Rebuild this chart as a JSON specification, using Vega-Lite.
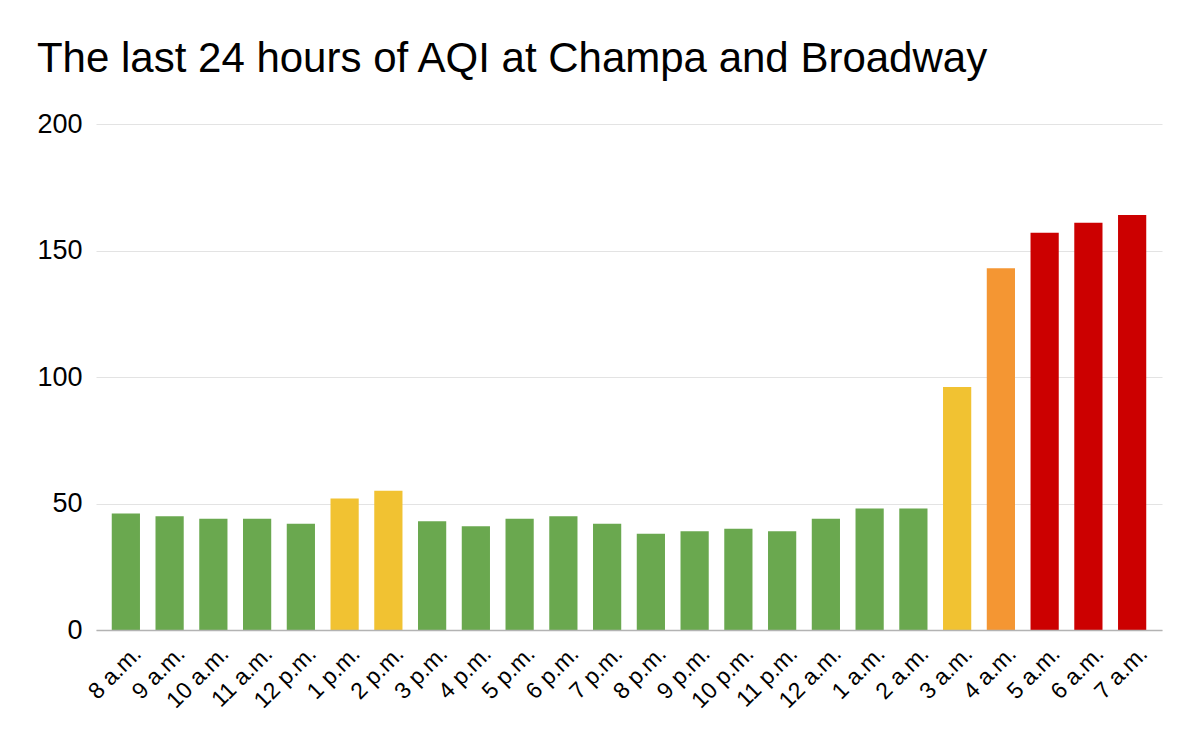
{
  "$schema": "https://vega.github.io/schema/vega-lite/v6.json",
  "autosize": {"type": "none"},
  "width": 1066,
  "height": 506,
  "padding": {"left": 96, "top": 124, "right": 38, "bottom": 112},
  "background": "white",
  "title": {
    "text": "The last 24 hours of AQI at Champa and Broadway",
    "anchor": "start",
    "font": "Liberation Sans",
    "fontSize": 42,
    "fontWeight": "normal",
    "color": "#000000",
    "baseline": "alphabetic",
    "dx": 0,
    "dy": 40,
    "offset": 36
  },
  "data": {
    "values": [
      {"hour": "8 a.m.", "aqi": 46, "level": "Good"},
      {"hour": "9 a.m.", "aqi": 45, "level": "Good"},
      {"hour": "10 a.m.", "aqi": 44, "level": "Good"},
      {"hour": "11 a.m.", "aqi": 44, "level": "Good"},
      {"hour": "12 p.m.", "aqi": 42, "level": "Good"},
      {"hour": "1 p.m.", "aqi": 52, "level": "Moderate"},
      {"hour": "2 p.m.", "aqi": 55, "level": "Moderate"},
      {"hour": "3 p.m.", "aqi": 43, "level": "Good"},
      {"hour": "4 p.m.", "aqi": 41, "level": "Good"},
      {"hour": "5 p.m.", "aqi": 44, "level": "Good"},
      {"hour": "6 p.m.", "aqi": 45, "level": "Good"},
      {"hour": "7 p.m.", "aqi": 42, "level": "Good"},
      {"hour": "8 p.m.", "aqi": 38, "level": "Good"},
      {"hour": "9 p.m.", "aqi": 39, "level": "Good"},
      {"hour": "10 p.m.", "aqi": 40, "level": "Good"},
      {"hour": "11 p.m.", "aqi": 39, "level": "Good"},
      {"hour": "12 a.m.", "aqi": 44, "level": "Good"},
      {"hour": "1 a.m.", "aqi": 48, "level": "Good"},
      {"hour": "2 a.m.", "aqi": 48, "level": "Good"},
      {"hour": "3 a.m.", "aqi": 96, "level": "Moderate"},
      {"hour": "4 a.m.", "aqi": 143, "level": "Unhealthy for Sensitive Groups"},
      {"hour": "5 a.m.", "aqi": 157, "level": "Unhealthy"},
      {"hour": "6 a.m.", "aqi": 161, "level": "Unhealthy"},
      {"hour": "7 a.m.", "aqi": 164, "level": "Unhealthy"}
    ]
  },
  "mark": {"type": "bar"},
  "encoding": {
    "x": {
      "field": "hour",
      "type": "nominal",
      "sort": null,
      "scale": {"paddingInner": 0.355, "paddingOuter": 0.36},
      "axis": {
        "title": null,
        "labelAngle": -45,
        "labelAlign": "right",
        "labelBaseline": "top",
        "labelFont": "Liberation Sans",
        "labelFontSize": 23,
        "labelColor": "#000000",
        "labelPadding": 12,
        "labelOffset": 4,
        "ticks": false,
        "domain": true,
        "domainColor": "#b3b3b3",
        "domainWidth": 1.5,
        "grid": false,
        "zindex": 1
      }
    },
    "y": {
      "field": "aqi",
      "type": "quantitative",
      "scale": {"domain": [0, 200], "nice": false},
      "axis": {
        "title": null,
        "values": [0, 50, 100, 150, 200],
        "labelFont": "Liberation Sans",
        "labelFontSize": 27,
        "labelColor": "#000000",
        "labelPadding": 14,
        "ticks": false,
        "domain": false,
        "grid": true,
        "gridColor": "#e3e3e3",
        "gridWidth": 1
      }
    },
    "color": {
      "field": "level",
      "type": "nominal",
      "scale": {
        "domain": ["Good", "Moderate", "Unhealthy for Sensitive Groups", "Unhealthy"],
        "range": ["#6aa84f", "#f1c232", "#f49633", "#cc0000"]
      },
      "legend": null
    }
  },
  "config": {"view": {"stroke": null}}
}
